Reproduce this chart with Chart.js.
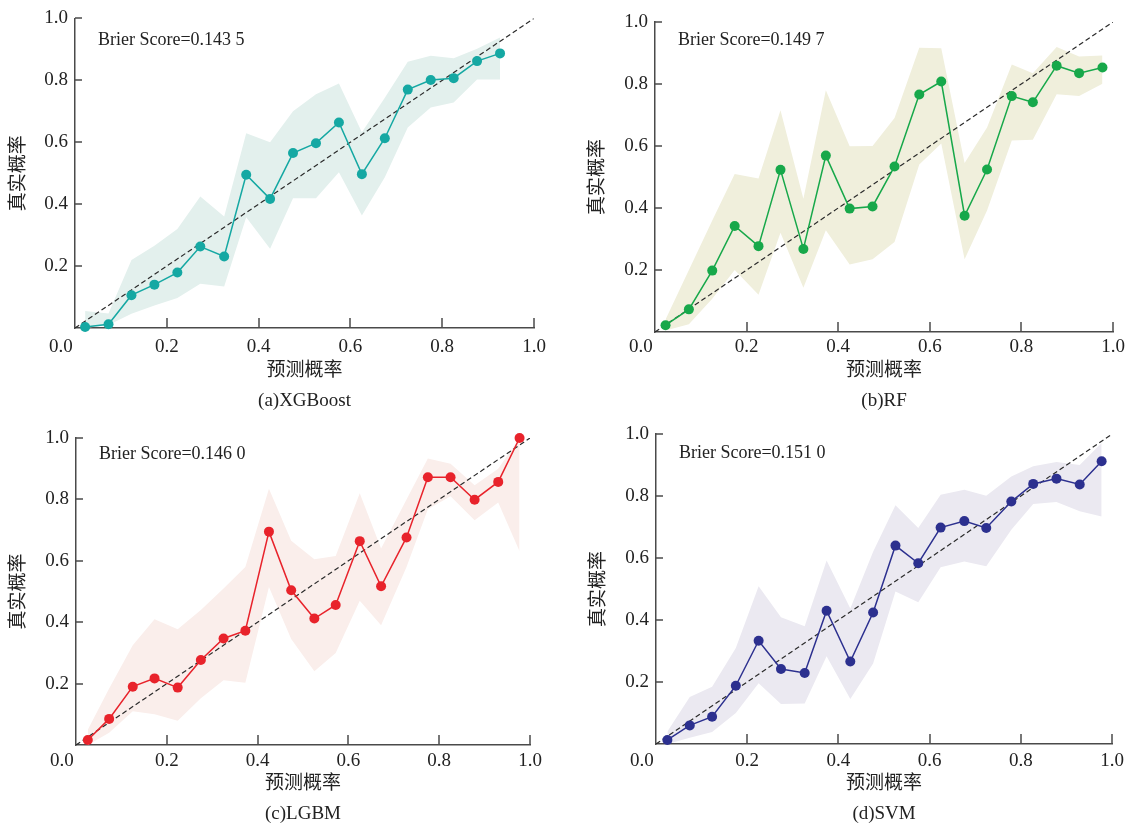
<!DOCTYPE html>
<html>
<head>
<meta charset="utf-8">
<script src="https://cdn.jsdelivr.net/npm/chart.js@4.4.1/dist/chart.umd.min.js"></script>
<style>
html,body{margin:0;padding:0;background:#fff;width:1130px;height:825px;overflow:hidden;}
canvas{position:absolute;}
</style>
</head>
<body>
<canvas id="c0"></canvas>
<canvas id="c1"></canvas>
<canvas id="c2"></canvas>
<canvas id="c3"></canvas>
<script>
// ---------- DATA ----------
const panelTitles = ['(a)XGBoost', '(b)RF', '(c)LGBM', '(d)SVM'];
const brierScores = ['Brier Score=0.143 5', 'Brier Score=0.149 7', 'Brier Score=0.146 0', 'Brier Score=0.151 0'];
const xAxisTitle = '预测概率';
const yAxisTitle = '真实概率';
const diagonal = [0, 1];

// (a) XGBoost
const xgbX    = [0.022,0.073,0.123,0.173,0.223,0.273,0.325,0.373,0.425,0.475,0.525,0.575,0.625,0.675,0.725,0.775,0.825,0.876,0.926];
const xgbY    = [0.003,0.012,0.106,0.140,0.179,0.263,0.231,0.495,0.417,0.565,0.597,0.664,0.497,0.613,0.770,0.801,0.807,0.862,0.887];
const xgbLow  = [0.000,0.010,0.046,0.073,0.097,0.143,0.134,0.358,0.256,0.419,0.419,0.503,0.363,0.487,0.648,0.712,0.728,0.803,0.803];
const xgbHigh = [0.055,0.047,0.220,0.266,0.320,0.425,0.360,0.629,0.600,0.700,0.755,0.790,0.632,0.744,0.860,0.879,0.871,0.902,0.938];

// (b) RF
const rfX    = [0.023,0.074,0.125,0.174,0.226,0.274,0.324,0.373,0.425,0.475,0.523,0.577,0.625,0.676,0.725,0.779,0.825,0.877,0.926,0.977];
const rfY    = [0.022,0.073,0.198,0.342,0.277,0.523,0.268,0.569,0.398,0.405,0.534,0.766,0.808,0.375,0.524,0.761,0.741,0.859,0.835,0.853];
const rfLow  = [0.005,0.025,0.107,0.200,0.120,0.320,0.143,0.328,0.218,0.235,0.290,0.540,0.608,0.235,0.392,0.618,0.620,0.767,0.761,0.801];
const rfHigh = [0.040,0.200,0.360,0.510,0.495,0.715,0.430,0.780,0.599,0.600,0.690,0.917,0.915,0.545,0.660,0.863,0.835,0.919,0.889,0.892];

// (c) LGBM
const lgbmX    = [0.026,0.073,0.125,0.173,0.224,0.275,0.325,0.373,0.425,0.474,0.525,0.572,0.625,0.672,0.728,0.775,0.825,0.878,0.930,0.977];
const lgbmY    = [0.016,0.085,0.190,0.217,0.187,0.277,0.347,0.372,0.695,0.504,0.412,0.456,0.664,0.517,0.676,0.872,0.872,0.799,0.857,1.000];
const lgbmLow  = [0.000,0.040,0.110,0.100,0.079,0.152,0.211,0.203,0.515,0.345,0.240,0.300,0.470,0.390,0.580,0.768,0.810,0.732,0.790,0.631];
const lgbmHigh = [0.050,0.184,0.325,0.410,0.377,0.440,0.510,0.580,0.835,0.665,0.605,0.616,0.820,0.640,0.800,0.933,0.916,0.846,0.900,1.000];

// (d) SVM
const svmX    = [0.025,0.074,0.123,0.175,0.225,0.274,0.326,0.374,0.426,0.476,0.525,0.575,0.624,0.676,0.724,0.779,0.827,0.878,0.929,0.977];
const svmY    = [0.013,0.060,0.088,0.188,0.333,0.242,0.229,0.430,0.266,0.424,0.640,0.583,0.698,0.719,0.697,0.782,0.839,0.856,0.837,0.912];
const svmLow  = [0.000,0.020,0.039,0.100,0.196,0.129,0.131,0.283,0.145,0.260,0.492,0.457,0.570,0.589,0.573,0.691,0.774,0.781,0.751,0.734];
const svmHigh = [0.040,0.152,0.185,0.310,0.509,0.409,0.380,0.592,0.437,0.620,0.770,0.697,0.804,0.820,0.801,0.863,0.896,0.910,0.900,0.971];

// ---------- STYLE / LAYOUT ----------
const series = [
  {x: xgbX,  y: xgbY,  lo: xgbLow,  hi: xgbHigh,  color: '#15a8a3', band: '#e3f0ed'},
  {x: rfX,   y: rfY,   lo: rfLow,   hi: rfHigh,   color: '#17a84a', band: '#f0efdc'},
  {x: lgbmX, y: lgbmY, lo: lgbmLow, hi: lgbmHigh, color: '#e8232b', band: '#faeeeb'},
  {x: svmX,  y: svmY,  lo: svmLow,  hi: svmHigh,  color: '#2c308f', band: '#ebe9f1'}
];
const layout = [
  {left: 0,   top: 0,   w: 565, h: 416, yw: 75, pr: 31, pt: 16, xh: 88, tickPad: 8, ytPad: 8,  textDy: 22},
  {left: 565, top: 0,   w: 565, h: 416, yw: 90, pr: 17, pt: 22, xh: 84, tickPad: 4, ytPad: 22, textDy: 18},
  {left: 0,   top: 415, w: 565, h: 414, yw: 76, pr: 35, pt: 23, xh: 84, tickPad: 5, ytPad: 8,  textDy: 16},
  {left: 565, top: 415, w: 565, h: 414, yw: 91, pr: 15, pt: 19, xh: 85, tickPad: 6, ytPad: 23, textDy: 19}
];
const AXIS = '#4a4a4a';
const TEXT = '#222';
const FONT = "'Liberation Serif', 'Noto Sans CJK SC', serif";

const pts = (xs, ys) => xs.map((v, i) => ({x: v, y: ys[i]}));

const extras = {
  id: 'extras',
  afterDraw(chart, args, opts) {
    const {ctx, chartArea: a, scales: {x, y}} = chart;
    ctx.save();
    ctx.strokeStyle = AXIS;
    ctx.lineWidth = 1.5;
    x.ticks.forEach(t => {
      if (t.value === 0) return;
      const px = Math.round(x.getPixelForValue(t.value));
      ctx.beginPath(); ctx.moveTo(px, a.bottom); ctx.lineTo(px, a.bottom - 10); ctx.stroke();
    });
    y.ticks.forEach(t => {
      if (t.value === 0) return;
      const py = Math.round(y.getPixelForValue(t.value));
      ctx.beginPath(); ctx.moveTo(a.left, py); ctx.lineTo(a.left + 7, py); ctx.stroke();
    });
    ctx.fillStyle = TEXT;
    ctx.font = "18px 'Liberation Serif', serif";
    ctx.textBaseline = 'middle';
    ctx.textAlign = 'left';
    ctx.fillText(opts.text, a.left + 23, a.top + opts.dy);
    ctx.restore();
  }
};

series.forEach((s, i) => {
  const L = layout[i];
  const cv = document.getElementById('c' + i);
  cv.width = L.w; cv.height = L.h;
  cv.style.left = L.left + 'px'; cv.style.top = L.top + 'px';
  new Chart(cv, {
    type: 'line',
    data: {
      datasets: [
        {data: pts(s.x, s.lo), borderWidth: 0, pointRadius: 0, fill: false, order: 4, borderColor: 'rgba(0,0,0,0)'},
        {data: pts(s.x, s.hi), borderWidth: 0, pointRadius: 0, fill: '-1', backgroundColor: s.band, order: 3, borderColor: 'rgba(0,0,0,0)'},
        {data: pts(diagonal, diagonal), borderColor: '#2a2a2a', borderWidth: 1.2, borderDash: [5, 3], pointRadius: 0, fill: false, order: 1},
        {data: pts(s.x, s.y), borderColor: s.color, backgroundColor: s.color, borderWidth: 1.5, clip: false,
         pointRadius: 5, pointBackgroundColor: s.color, pointBorderWidth: 0, fill: false, order: 0}
      ]
    },
    options: {
      responsive: false,
      animation: false,
      devicePixelRatio: 1,
      layout: {padding: {left: 0, right: L.pr, top: L.pt, bottom: 0}},
      plugins: {legend: {display: false}, tooltip: {enabled: false},
                extras: {text: brierScores[i], dy: L.textDy}},
      scales: {
        x: {
          type: 'linear', min: 0, max: 1,
          afterFit: sc => { sc.height = L.xh; },
          grid: {display: false, drawTicks: false},
          border: {display: true, color: AXIS, width: 1.5},
          ticks: {stepSize: 0.2, padding: L.tickPad, color: TEXT, maxRotation: 0, autoSkip: false,
                  font: {family: FONT, size: 19},
                  callback: v => Math.abs(v) < 1e-9 ? '0.0\u2002\u2002\u2002' : Number(v).toFixed(1)},
          title: {display: true, text: [xAxisTitle, panelTitles[i]], color: TEXT,
                  font: {family: FONT, size: 19, lineHeight: '30px'}, padding: {top: 0, bottom: 0}}
        },
        y: {
          type: 'linear', min: 0, max: 1,
          afterFit: sc => { sc.width = L.yw; },
          grid: {display: false, drawTicks: false},
          border: {display: true, color: AXIS, width: 1.5},
          ticks: {stepSize: 0.2, padding: 7, color: TEXT, font: {family: FONT, size: 19},
                  callback: v => Math.abs(v) < 1e-9 ? '' : Number(v).toFixed(1)},
          title: {display: true, text: yAxisTitle, color: TEXT,
                  font: {family: FONT, size: 19, lineHeight: 1.2}, padding: {top: L.ytPad, bottom: 0}}
        }
      }
    },
    plugins: [extras]
  });
});
</script>
</body>
</html>
